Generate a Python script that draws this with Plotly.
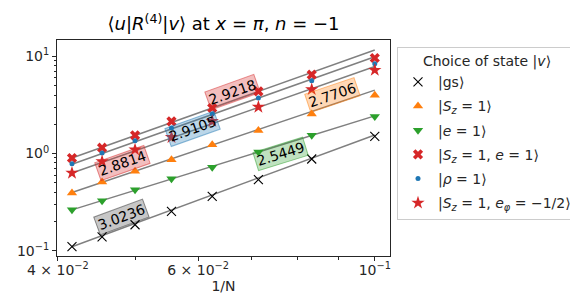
import numpy as np
import plotly.graph_objects as go

# ---- data ----
N = np.array([24, 22, 20, 18, 16, 14, 12, 10])
x = 1.0 / N

names = ["|gs⟩",
         "|<i>S<sub>z</sub></i> = 1⟩",
         "|<i>e</i> = 1⟩",
         "|<i>S<sub>z</sub></i> = 1, <i>e</i> = 1⟩",
         "|<i>ρ</i> = 1⟩",
         "|<i>S<sub>z</sub></i> = 1, <i>e<sub>φ</sub></i> = −1/2⟩"]

y_gs = [0.110, 0.139, 0.185, 0.254, 0.362, 0.538, 0.878, 1.50]
y_sz = [0.392, 0.509, 0.655, 0.864, 1.233, 1.72, 2.55, 3.97]
y_e = [0.264, 0.327, 0.425, 0.551, 0.721, 1.036, 1.54, 2.41]
y_sze = [0.899, 1.148, 1.54, 2.14, 2.94, 4.36, 6.47, 9.61]
y_p = [0.786, 1.01, 1.355, 1.83, 2.55, 3.72, 5.62, 8.40]
y_star = [0.630, 0.83, 1.095, 1.47, 2.15, 3.01, 4.57, 7.22]

# fitted exponents and fit-line values at the largest N
exponents = [3.0236, 2.7706, 2.5449, 2.9218, 2.9105, 2.8814]
fit_anchor = [0.110, 0.397, 0.263, 0.900, 0.775, 0.630]

# label positions (data coords)
label_x = [0.0481, 0.08845, 0.07608, 0.06636, 0.05896, 0.04825]
label_y = [0.2207, 3.97, 0.995, 4.29, 1.80, 0.794]

series = [y_gs, y_sz, y_e, y_sze, y_p, y_star]
colors = ["#000000", "#ff7f0e", "#2ca02c", "#d62728", "#1f77b4", "#d62728"]
rgb = [(0, 0, 0), (255, 127, 14), (44, 160, 44), (214, 39, 40), (31, 119, 180), (214, 39, 40)]
symbols = ["x-thin-open", "triangle-up", "triangle-down", "x", "circle", "star"]
sizes = [9, 9, 9, 9, 5, 10]

xr = [np.log10(0.0399), np.log10(0.1045)]
yr = [-1.0545, 1.168]
L, R, T, B = 49, 196, 32, 52
W, H = 578, 300
pw, ph = W - L - R, H - T - B

fig = go.Figure()

# fit lines
xl = np.array([x.min(), x.max()])
for p, a in zip(exponents, fit_anchor):
    yl = a * (xl / x.min()) ** p
    fig.add_trace(go.Scatter(x=xl, y=yl, mode="lines",
                             line=dict(color="#808080", width=1.5),
                             showlegend=False, hoverinfo="skip"))

# data markers
for i, (ys, nm) in enumerate(zip(series, names)):
    mk = dict(symbol=symbols[i], size=sizes[i], color=colors[i])
    if symbols[i] == "x-thin-open":
        mk["line"] = dict(color=colors[i], width=1.1)
    else:
        mk["line"] = dict(width=0)
    fig.add_trace(go.Scatter(x=x, y=ys, mode="markers", name=nm, marker=mk,
                             legendgroup=str(i)))

# labels along the fit lines
sx = pw / (xr[1] - xr[0])
sy = ph / (yr[1] - yr[0])
for i in range(6):
    ang = np.degrees(np.arctan(exponents[i] * sy / sx))
    r, g, b = rgb[i]
    a_bg = 0.22 if i == 0 else 0.3
    fig.add_annotation(x=np.log10(label_x[i]), y=np.log10(label_y[i]),
                       xref="x", yref="y", text=f"{exponents[i]:.4f}",
                       showarrow=False, textangle=-ang,
                       font=dict(family="DejaVu Sans", size=14, color="black"),
                       bgcolor=f"rgba({r},{g},{b},{a_bg})",
                       bordercolor=f"rgba({r},{g},{b},{a_bg + 0.2})",
                       borderwidth=1, borderpad=1)

xmajor = [0.04, 0.06, 0.1]
xmajor_text = ["4 × 10<sup>−2</sup>", "6 × 10<sup>−2</sup>", "10<sup>−1</sup>"]
xminor = [0.05, 0.07, 0.08, 0.09]
ymajor = [0.1, 1, 10]
ymajor_text = ["10<sup>−1</sup>", "10<sup>0</sup>", "10<sup>1</sup>"]
yminor = [v * m for v in [0.1, 1] for m in range(2, 10)]

axis_common = dict(showline=True, linecolor="#262626", linewidth=1, mirror=True,
                   ticks="outside", ticklen=4, tickwidth=1, tickcolor="#262626",
                   showgrid=False, zeroline=False, automargin=False,
                   tickfont=dict(family="DejaVu Sans", size=14, color="#262626"))

fig.update_xaxes(type="log", range=xr, tickvals=xmajor, ticktext=xmajor_text,
                 ticklabelstandoff=-3,
                 minor=dict(tickvals=xminor, ticklen=2.5, tickcolor="#262626", ticks="outside", showgrid=False),
                 title=dict(text="1/N", font=dict(family="DejaVu Sans", size=14, color="#262626"), standoff=0),
                 **axis_common)
fig.update_yaxes(type="log", range=yr, tickvals=ymajor, ticktext=ymajor_text,
                 minor=dict(tickvals=yminor, ticklen=2.5, tickcolor="#262626", ticks="outside", showgrid=False),
                 **axis_common)

fig.update_layout(
    width=W, height=H,
    margin=dict(l=L, r=R, t=T, b=B, autoexpand=False),
    paper_bgcolor="white", plot_bgcolor="white",
    font=dict(family="DejaVu Sans", size=14, color="#262626"),
    title=dict(text="⟨<i>u</i>|<i>R</i><sup>(4)</sup>|<i>v</i>⟩ at <i>x</i> = <i>π</i>, <i>n</i> = −1",
               x=(L + pw / 2) / W, xanchor="center", y=1 - 16 / H, yanchor="middle",
               font=dict(family="DejaVu Sans", size=18, color="black")),
    legend=dict(x=(389 - L) / pw, y=(H - B - 39) / ph, xanchor="left", yanchor="top",
                bordercolor="#cccccc", borderwidth=1, bgcolor="white",
                title=dict(text="Choice of state |<i>v</i>⟩", side="top center",
                           font=dict(family="DejaVu Sans", size=14)),
                font=dict(family="DejaVu Sans", size=14),
                tracegroupgap=3, traceorder="grouped"),
)

fig.write_html("out.html")
